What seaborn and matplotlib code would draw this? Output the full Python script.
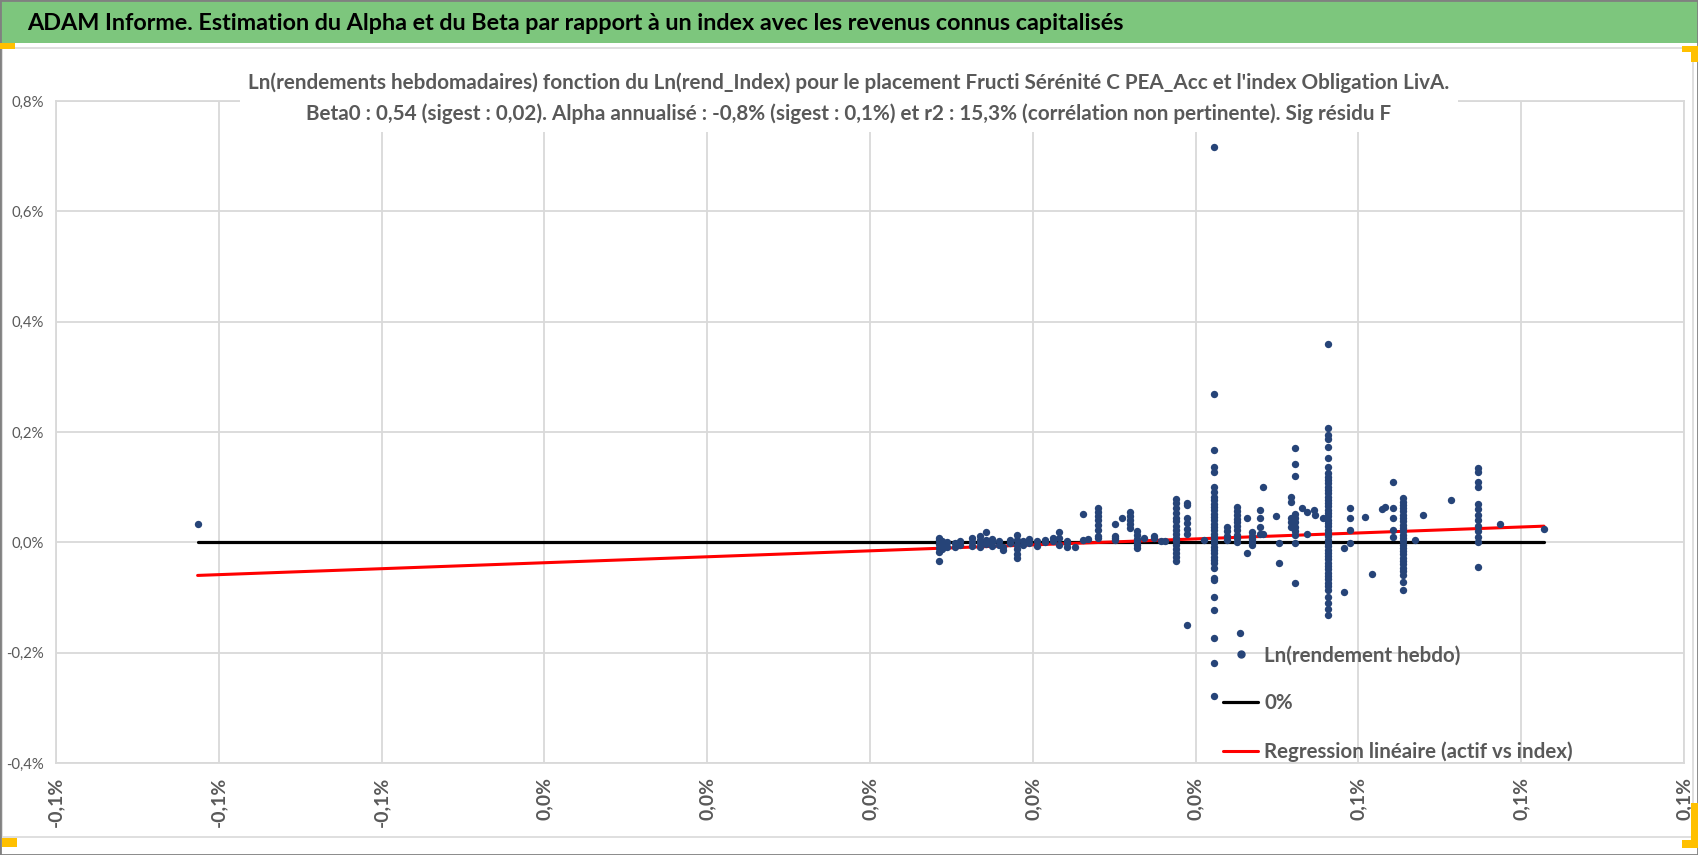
import matplotlib
matplotlib.use("Agg")
import matplotlib.pyplot as plt
from matplotlib.patches import Rectangle
from matplotlib.lines import Line2D
from matplotlib.ticker import FuncFormatter
import numpy as np
import seaborn as sns

W, H = 1698, 855

COLOR_POINTS = "#264478"
COLOR_ZERO = "black"
COLOR_REG = "#FF0000"
COLOR_TEXT = "#595959"
COLOR_GRID = "#D9D9D9"
COLOR_HEADER = "#7DC67D"
COLOR_HANDLE = "#FFC000"

HEADER = ("ADAM Informe. Estimation du Alpha et du Beta par rapport à un index "
          "avec les revenus connus capitalisés")
TITLE_1 = ("Ln(rendements hebdomadaires) fonction du Ln(rend_Index) pour le placement "
           "Fructi Sérénité C PEA_Acc et l'index Obligation LivA.")
TITLE_2 = ("Beta0 : 0,54 (sigest : 0,02). Alpha annualisé : -0,8% (sigest : 0,1%) et "
           "r2 : 15,3% (corrélation non pertinente). Sig résidu F")
LABEL_POINTS = "Ln(rendement hebdo)"
LABEL_ZERO = "0%"
LABEL_REG = "Regression linéaire (actif vs index)"

# regression parameters from the subtitle (weekly alpha = annual / 52)
BETA = 0.54
ALPHA_ANNUAL = -0.8

# ln weekly return of the index (%), one entry per vertical column of points
index_ret = [
    -0.0826,
    0.0085, 0.0089, 0.0095, 0.0105, 0.0110, 0.0125, 0.0135, 0.0142, 0.0150,
    0.0158, 0.0163, 0.0172, 0.0180, 0.0188, 0.0195, 0.0205, 0.0215, 0.0225,
    0.0232, 0.0242, 0.0252, 0.0262, 0.0268,
    0.0280, 0.0301, 0.0310, 0.0319, 0.0328, 0.0337, 0.0349, 0.0357, 0.0362,
    0.0376, 0.0390, 0.0410, 0.0423, 0.0439, 0.0451, 0.0455, 0.0463, 0.0469,
    0.0479, 0.0483, 0.0499, 0.0502, 0.0517, 0.0522, 0.0531, 0.0537, 0.0545,
    0.0547, 0.0557, 0.0563, 0.0582, 0.0590, 0.0608, 0.0617, 0.0629, 0.0633,
    0.0643, 0.0655, 0.0670, 0.0679, 0.0714, 0.0747, 0.0774, 0.0828,
]

# ln weekly return of the fund (%), for each index column above
fund_ret = [
    [0.034],
    [-0.034, -0.018, -0.010, -0.003, 0.004, 0.008],
    [-0.012, -0.004, 0.003],
    [-0.008, 0.000],
    [-0.009, -0.002],
    [-0.004, 0.002],
    [-0.006, 0.001, 0.007],
    [-0.008, -0.002, 0.004, 0.011],
    [0.018, 0.005, -0.003],
    [-0.007, 0.000, 0.006],
    [-0.004, 0.003],
    [-0.008, -0.013],
    [-0.002, 0.004],
    [0.013, 0.005, -0.004, -0.012, -0.021, -0.029],
    [0.002, -0.004],
    [0.006, -0.001],
    [0.003, -0.006],
    [0.005, 0.000],
    [0.008, 0.002],
    [0.018, 0.008, -0.004],
    [0.003, -0.002, -0.008],
    [-0.009],
    [0.051, 0.005],
    [0.006],
    [0.062, 0.055, 0.048, 0.040, 0.032, 0.022, 0.012, 0.007],
    [0.033, 0.012, 0.008, 0.005],
    [0.044],
    [0.055, 0.048, 0.040, 0.033, 0.026],
    [0.021, 0.013, 0.006, 0.000, -0.004, -0.011],
    [0.007],
    [0.012, 0.007],
    [0.002],
    [0.002],
    [0.078, 0.071, 0.062, 0.053, 0.045, 0.038, 0.030, 0.022, 0.015, 0.008,
     0.002, -0.005, -0.012, -0.019, -0.026, -0.033],
    [0.072, 0.068, 0.045, 0.035, 0.025, 0.016, -0.150],
    [0.004],
    [0.716, 0.269, 0.167, 0.136, 0.127, 0.100, 0.091, 0.082, 0.076, 0.070,
     0.064, 0.058, 0.052, 0.046, 0.040, 0.034, 0.028, 0.022, 0.016, 0.010,
     0.004, -0.002, -0.008, -0.014, -0.020, -0.026, -0.032, -0.038, -0.047,
     -0.065, -0.069, -0.100, -0.123, -0.174, -0.219, -0.279],
    [0.028, 0.020, 0.012, 0.004],
    [0.064, 0.057, 0.050, 0.043, 0.036, 0.029, 0.022, 0.014, 0.007, 0.000],
    [-0.165],
    [0.044, -0.020],
    [0.018, 0.012, 0.006, 0.000, -0.005],
    [0.058, 0.044, 0.028, 0.016],
    [0.100, 0.015],
    [0.047],
    [-0.002, -0.038],
    [0.082, 0.073, 0.044, 0.036, 0.028],
    [0.171, 0.142, 0.120, 0.052, 0.044, 0.036, 0.028, 0.020, 0.013, -0.002,
     -0.073],
    [0.062],
    [0.055, 0.016],
    [0.058],
    [0.050],
    [0.044],
    [0.359, 0.207, 0.194, 0.188, 0.172, 0.152, 0.136, 0.125, 0.119, 0.113,
     0.107, 0.101, 0.095, 0.089, 0.083, 0.077, 0.071, 0.065, 0.059, 0.053,
     0.047, 0.041, 0.035, 0.029, 0.023, 0.017, 0.011, 0.005, -0.001, -0.007,
     -0.013, -0.019, -0.025, -0.031, -0.037, -0.043, -0.049, -0.055, -0.061,
     -0.067, -0.073, -0.079, -0.087, -0.100, -0.110, -0.120, -0.132],
    [-0.011, -0.090],
    [0.062, 0.044, 0.022, -0.002],
    [0.046],
    [-0.058],
    [0.060],
    [0.064],
    [0.110, 0.063, 0.045, 0.022, 0.010],
    [0.080, 0.074, 0.068, 0.062, 0.056, 0.050, 0.044, 0.038, 0.032, 0.026,
     0.020, 0.014, 0.008, 0.002, -0.004, -0.010, -0.016, -0.022, -0.028,
     -0.034, -0.040, -0.046, -0.052, -0.060, -0.072, -0.087],
    [0.004],
    [0.050],
    [0.076],
    [0.135, 0.128, 0.110, 0.100, 0.070, 0.060, 0.050, 0.040, 0.030, 0.020,
     0.010, 0.000, -0.045],
    [0.034],
    [0.025],
]

x_ticks = [-0.10, -0.08, -0.06, -0.04, -0.02, 0.00, 0.02, 0.04, 0.06, 0.08, 0.10]
y_ticks = [-0.4, -0.2, 0.0, 0.2, 0.4, 0.6, 0.8]


def fig_x(px):
    return px / W


def fig_y(py):
    return 1 - py / H


def pct_label(v):
    return f"{round(v, 1) + 0.0:.1f}%".replace(".", ",")


def size_for(fig, text, target_px, weight="normal"):
    # font size that gives the text the pixel width seen on the reference
    t = fig.text(0, 0, text, fontsize=10, fontweight=weight)
    w = t.get_window_extent(renderer=fig.canvas.get_renderer()).width
    t.remove()
    return 10 * target_px / w


sns.set_theme(style="white")
plt.rcParams["font.family"] = ["Lato", "DejaVu Sans"]

x = np.array([xi for xi, ys in zip(index_ret, fund_ret) for _ in ys])
y = np.array([yi for ys in fund_ret for yi in ys])

fig = plt.figure(figsize=(W / 100, H / 100), dpi=100)
fig.patch.set_facecolor("white")

fs_header = size_for(fig, HEADER, 1105, "bold")
fs_title = size_for(fig, TITLE_1, 1207, "bold")
fs_ytick = size_for(fig, "-0,4%", 38)
fs_xtick = size_for(fig, "-0,1%", 50, "bold")
fs_legend = size_for(fig, LABEL_REG, 310, "bold")

# chart frame, header band and selection handles
fig.patches.append(Rectangle((fig_x(2), fig_y(837)), fig_x(1691), 789 / H,
                             transform=fig.transFigure, fill=False,
                             edgecolor=COLOR_GRID, linewidth=1.2))
fig.patches.append(Rectangle((0, fig_y(43)), 1, 43 / H, transform=fig.transFigure,
                             facecolor=COLOR_HEADER, edgecolor="none"))
fig.patches.append(Rectangle((0, 0), 1, 1, transform=fig.transFigure, fill=False,
                             edgecolor="#808080", linewidth=2))
for hx, hy, hw, hh in [(0, 43, 15, 6), (1682, 46, 16, 6), (1691, 46, 7, 16),
                       (2, 838, 15, 9), (1682, 840, 16, 8), (1691, 803, 7, 44)]:
    fig.patches.append(Rectangle((fig_x(hx), fig_y(hy + hh)), hw / W, hh / H,
                                 transform=fig.transFigure,
                                 facecolor=COLOR_HANDLE, edgecolor="none"))

fig.text(fig_x(27), fig_y(23), HEADER, ha="left", va="center", fontsize=fs_header,
         fontweight="bold", color="black")

ax = fig.add_axes([fig_x(56), fig_y(763), 1628 / W, 662 / H])
ax.set_facecolor("white")

sns.scatterplot(x=x, y=y, ax=ax, color=COLOR_POINTS, s=28, linewidth=0,
                zorder=3, legend=False)

x_min, x_max = x.min(), x.max()
alpha_weekly = ALPHA_ANNUAL / 52
ax.plot([x_min, x_max], [0, 0], color=COLOR_ZERO, lw=2.3, zorder=2)
ax.plot([x_min, x_max], [alpha_weekly + BETA * x_min, alpha_weekly + BETA * x_max],
        color=COLOR_REG, lw=2.2, zorder=2)

ax.set_xlim(-0.1, 0.1)
ax.set_ylim(-0.4, 0.8)
ax.set_xticks(x_ticks)
ax.set_xticklabels([pct_label(t) for t in x_ticks], rotation=90,
                   fontweight="bold")
ax.set_yticks(y_ticks)
ax.yaxis.set_major_formatter(FuncFormatter(lambda v, _: f"{v:.1f}%".replace(".", ",")))
ax.tick_params(axis="x", length=0, pad=10, labelsize=fs_xtick, labelcolor=COLOR_TEXT)
ax.tick_params(axis="y", length=0, pad=9, labelsize=fs_ytick, labelcolor=COLOR_TEXT)
ax.grid(True, color=COLOR_GRID, linewidth=1.3)
for side in ax.spines.values():
    side.set_color(COLOR_GRID)
    side.set_linewidth(1.3)
ax.set_xlabel("")
ax.set_ylabel("")

handles = [
    Line2D([], [], ls="none", marker="o", markersize=5, color=COLOR_POINTS),
    Line2D([], [], color=COLOR_ZERO, lw=2.3),
    Line2D([], [], color=COLOR_REG, lw=2.2),
]
leg = ax.legend(handles, [LABEL_POINTS, LABEL_ZERO, LABEL_REG], frameon=False,
                loc="upper left", bbox_to_anchor=(0.717, 0.178), borderaxespad=0,
                borderpad=0, handlelength=1.7, handletextpad=0.3, labelspacing=1.38,
                prop={"size": fs_legend, "weight": "bold"}, labelcolor=COLOR_TEXT)

fig.text(0.5, fig_y(98), TITLE_1 + "\n" + TITLE_2, ha="center", va="center",
         fontsize=fs_title, fontweight="bold", color=COLOR_TEXT, linespacing=1.6,
         zorder=5, bbox=dict(facecolor="white", edgecolor="none", pad=6))

fig.savefig("out.png", dpi=100)
